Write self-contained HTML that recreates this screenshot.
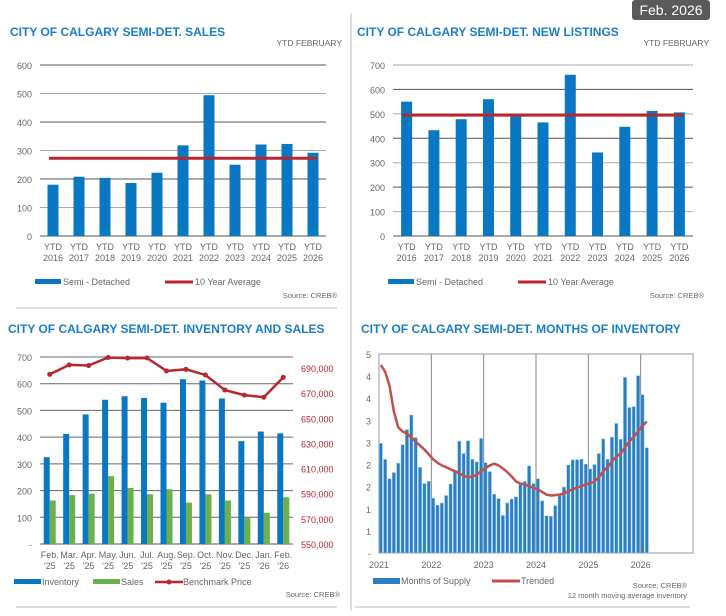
<!DOCTYPE html>
<html><head><meta charset="utf-8"><style>
body{margin:0;background:#fff;width:726px;height:611px;overflow:hidden;font-family:"Liberation Sans",Arial,sans-serif}
svg text{font-family:"Liberation Sans",Arial,sans-serif}
</style></head><body>
<svg id="s" width="726" height="611" xmlns="http://www.w3.org/2000/svg">
<rect x="632" y="0" width="78" height="20" rx="3" fill="#5a5a5a"/>
<text x="671" y="15" font-size="14" fill="#fff" text-anchor="middle">Feb. 2026</text>
<line x1="351" y1="13" x2="351" y2="611" stroke="#bbb"/>
<line x1="16" y1="308" x2="337" y2="308" stroke="#bbb"/>
<line x1="16" y1="607" x2="337" y2="607" stroke="#bbb"/>
<line x1="355" y1="607" x2="690" y2="607" stroke="#bbb"/>
</svg>
<script>
const ytdCats=["2016","2017","2018","2019","2020","2021","2022","2023","2024","2025","2026"];
const salesVals=[180,208,204,186,222,318,494,250,321,323,292];
const salesAvg=273;
const listVals=[550,433,478,560,492,465,660,342,447,512,506];
const listAvg=495;
const invCats=[["Feb.","'25"],["Mar.","'25"],["Apr.","'25"],["May.","'25"],["Jun.","'25"],["Jul.","'25"],["Aug.","'25"],["Sep.","'25"],["Oct.","'25"],["Nov.","'25"],["Dec.","'25"],["Jan.","'26"],["Feb.","'26"]];
const invVals=[325,412,485,540,553,547,529,617,612,545,385,421,414];
const invSales=[163,183,188,254,210,186,205,155,186,163,97,117,175];
const invPrice=[685000,692500,692000,698400,697900,698000,687700,689000,684500,672500,668500,666800,682600];
const priceTicks=[550000,570000,590000,610000,630000,650000,670000,690000];
const moiYears=["2021","2022","2023","2024","2025","2026"];
const moiSupply=[2.48,2.12,1.68,1.82,2.03,2.45,2.79,3.12,2.61,1.94,1.57,1.62,1.24,1.08,1.13,1.30,1.56,1.87,2.53,2.25,2.54,2.12,2.06,2.59,2.04,1.84,1.33,1.23,0.85,1.13,1.22,1.27,1.55,1.62,1.97,1.57,1.68,1.18,0.84,0.83,1.07,1.30,1.49,1.99,2.11,2.11,2.12,2.01,1.90,2.00,2.25,2.58,2.12,2.62,2.93,2.57,3.97,3.29,3.31,4.01,3.58,2.38];
const moiTrend=[4.25,4.10,3.78,3.20,2.84,2.75,2.70,2.61,2.52,2.43,2.34,2.23,2.12,2.04,1.98,1.94,1.89,1.85,1.80,1.75,1.71,1.73,1.77,1.85,1.92,1.98,2.02,1.98,1.91,1.83,1.73,1.62,1.57,1.55,1.51,1.47,1.44,1.38,1.32,1.30,1.31,1.32,1.35,1.40,1.44,1.48,1.51,1.55,1.58,1.62,1.71,1.85,1.94,2.07,2.18,2.25,2.39,2.52,2.63,2.75,2.88,2.97];
const moiTicks=["-","1","1","2","2","3","3","4","4","5"];

const S=document.getElementById('s');const NS="http://www.w3.org/2000/svg";
function el(t,a,txt){const e=document.createElementNS(NS,t);for(const k in a)e.setAttribute(k,a[k]);if(txt!==undefined)e.textContent=txt;S.appendChild(e);return e;}
const BLUE="#0a77c2",RED="#b8262e",GREEN="#6ab04c",TITLE="#1a7ec8",GREY="#666";

function title(x,y,t,n){const e=el('text',{x:x,y:y,'font-size':12,'font-weight':'bold',fill:TITLE},t);

}

function ytdChart(p){
  const x0=p.x0,x1=p.x1,yT=65,yB=236,max=p.max;
  const ys=v=>yB-v/max*(yB-yT);
  const bw=(x1-x0)/ytdCats.length;
  for(let v=0;v<=max;v+=100){
    const g=el('line',{x1:x0,x2:x1,y1:ys(v),y2:ys(v),stroke:v%200===100?'#aaa':'#555','stroke-width':1});
    
    
    const t=el('text',{x:x0-8,y:ys(v)+4,'font-size':9,fill:GREY,'text-anchor':'end'},String(v));
    
    
  }
  p.vals.forEach((v,i)=>{
    const cx=x0+bw*(i+.5);
    const r=el('rect',{x:cx-5.5,y:ys(v),width:11,height:yB-ys(v),fill:BLUE});
    
    
    const a=el('text',{x:cx,y:250,'font-size':9,fill:GREY,'text-anchor':'middle'},'YTD');
    
    
    const b=el('text',{x:cx,y:261,'font-size':9,fill:GREY,'text-anchor':'middle'},ytdCats[i]);
    
    
  });
  const l=el('line',{x1:x0+bw*.5-4,x2:x1-bw*.5+4,y1:ys(p.avg),y2:ys(p.avg),stroke:RED,'stroke-width':3});
  
  
  const lx=p.x0-5;
  const r1=el('rect',{x:lx,y:279,width:26,height:5,fill:BLUE});
  
  
  const t1=el('text',{x:lx+28,y:285,'font-size':9,fill:GREY},'Semi - Detached');
  
  
  const r2=el('line',{x1:lx+130,x2:lx+158,y1:282,y2:282,stroke:RED,'stroke-width':3});
  
  
  const t2=el('text',{x:lx+160,y:285,'font-size':9,fill:GREY},'10 Year Average');
  
  
  const s=el('text',{x:p.x1+11,y:298,'font-size':7.5,fill:GREY,'text-anchor':'end'},'Source: CREB®');
  
  
  const y=el('text',{x:p.x1+16,y:46,'font-size':8.5,fill:GREY,'text-anchor':'end'},'YTD  FEBRUARY');
  
  
}
title(10,36,'CITY OF CALGARY SEMI-DET. SALES','sales-title');
ytdChart({x0:40,x1:326,max:600,vals:salesVals,avg:salesAvg});
title(357,36,'CITY OF CALGARY SEMI-DET. NEW LISTINGS','listings-title');
ytdChart({x0:393,x1:693,max:700,vals:listVals,avg:listAvg});

title(8,333,'CITY OF CALGARY SEMI-DET. INVENTORY AND SALES','inventory-title');
(function(){
  const x0=40,x1=293,yT=357,yB=544;
  const ys=v=>yB-v/700*(yB-yT);
  const yp=v=>yB-(v-550000)/150000*(yB-yT+1.5);
  const bw=(x1-x0)/invCats.length;
  for(let v=0;v<=700;v+=100){
    const g=el('line',{x1:x0,x2:x1,y1:ys(v),y2:ys(v),stroke:v===0?'#555':'#666','stroke-width':1});
    
    
    const t=el('text',{x:x0-8,y:ys(v)+4,'font-size':9,fill:GREY,'text-anchor':'end'},v===0?'-':String(v));
    
    
  }
  priceTicks.forEach(v=>{
    const t=el('text',{x:x1+8,y:yp(v)+4,'font-size':9,fill:RED},v.toLocaleString('en-US'));
    
    
  });
  let pts=[];
  invCats.forEach((c,i)=>{
    const cx=x0+bw*(i+.5);
    const r=el('rect',{x:cx-6,y:ys(invVals[i]),width:6,height:yB-ys(invVals[i]),fill:BLUE});
    
    
    const g=el('rect',{x:cx,y:ys(invSales[i]),width:6,height:yB-ys(invSales[i]),fill:GREEN});
    
    
    const a=el('text',{x:cx,y:558,'font-size':9,fill:GREY,'text-anchor':'middle'},c[0]);
    
    
    const b=el('text',{x:cx,y:569,'font-size':9,fill:GREY,'text-anchor':'middle'},c[1]);
    
    
    pts.push([cx,yp(invPrice[i])]);
  });
  const pl=el('polyline',{points:pts.map(p=>p.join(',')).join(' '),fill:'none',stroke:RED,'stroke-width':2.5});
  
  
  pts.forEach(p=>{const c=el('circle',{cx:p[0],cy:p[1],r:2.5,fill:RED});
    
    });
  const L=[[14,'Inventory',BLUE,'rect'],[93,'Sales',GREEN,'rect'],[155,'Benchmark Price',RED,'line']];
  L.forEach(l=>{
    let s;
    if(l[3]==='rect')s=el('rect',{x:l[0],y:579,width:27,height:5,fill:l[2]});
    else{s=el('line',{x1:l[0],x2:l[0]+28,y1:582,y2:582,stroke:l[2],'stroke-width':2.5});el('circle',{cx:l[0]+14,cy:582,r:2.5,fill:l[2]});}
    
    
    const t=el('text',{x:l[0]+28,y:585,'font-size':9,fill:GREY},l[1]);
    
    
  });
  const s=el('text',{x:340,y:597,'font-size':7.5,fill:GREY,'text-anchor':'end'},'Source: CREB®');
  
  
})();

title(361,333,'CITY OF CALGARY SEMI-DET. MONTHS OF INVENTORY','moi-title');
(function(){
  const x0=379,x1=693,yT=354,yB=553,max=4.5;
  const ys=v=>yB-v/max*(yB-yT);
  const xm=i=>x0+i*(x1-x0)/72;
  const fr=el('rect',{x:x0,y:yT,width:x1-x0,height:yB-yT,fill:'none',stroke:'#999'});
  
  
  moiTicks.forEach((t,i)=>{
    const e=el('text',{x:x0-8,y:ys(i*0.5)+4,'font-size':9,fill:GREY,'text-anchor':'end'},t);
    
    
  });
  moiYears.forEach((y,i)=>{
    if(i>0){const g=el('line',{x1:xm(i*12),x2:xm(i*12),y1:yT,y2:yB,stroke:'#888'});
      
      }
    const t=el('text',{x:xm(i*12),y:568,'font-size':9,fill:GREY,'text-anchor':'middle'},y);
    
    
  });
  moiSupply.forEach((v,i)=>{
    const r=el('rect',{x:xm(i)+0.2,y:ys(v),width:3.2,height:yB-ys(v),fill:'#2b7fc0',stroke:'#8ec4ea','stroke-width':0.5});
    
    
  });
  const pts=moiTrend.map((v,i)=>[xm(i)+1.8,ys(v)]);
  const pl=el('polyline',{points:pts.map(p=>p.join(',')).join(' '),fill:'none',stroke:'#c0504d','stroke-width':2.5,'stroke-linejoin':'round'});
  
  
  const a=el('rect',{x:373,y:578,width:27,height:6,fill:'#2b7fc0'});
  
  
  const b=el('text',{x:401,y:584,'font-size':9,fill:GREY},'Months of Supply');
  
  
  const c=el('line',{x1:492,x2:520,y1:581,y2:581,stroke:'#c0504d','stroke-width':3});
  
  
  const d=el('text',{x:521,y:584,'font-size':9,fill:GREY},'Trended');
  
  
  const s=el('text',{x:687,y:588,'font-size':7.5,fill:GREY,'text-anchor':'end'},'Source: CREB®');
  
  
  const n=el('text',{x:687,y:598,'font-size':7.5,fill:GREY,'text-anchor':'end'},'12 month moving average inventory');
  
  
})();
</script>
</body></html>
